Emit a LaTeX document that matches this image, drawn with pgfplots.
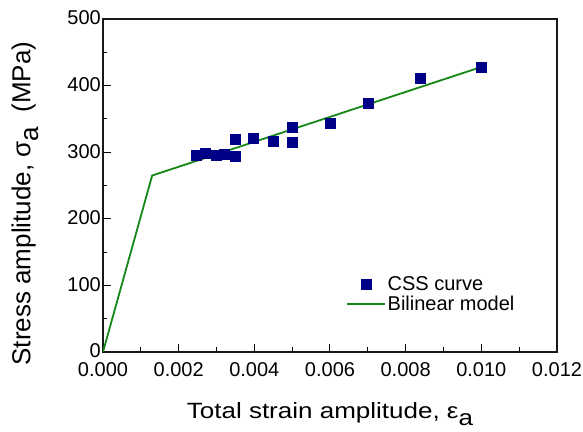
\documentclass[border=0pt]{standalone}
\usepackage{fontspec}
\setmainfont{Liberation Sans}
\usepackage{pgfplots}
\pgfplotsset{compat=1.18}
\definecolor{cssblue}{RGB}{0,0,135}
\definecolor{linegreen}{RGB}{20,135,20}
\begin{document}
\begin{tikzpicture}
\begin{axis}[
  scale only axis,
  width=454pt, height=333pt,
  xmin=0, xmax=0.012, ymin=0, ymax=500,
  xtick={0,0.002,...,0.012},
  ytick={0,100,...,500},
  minor tick num=1,
  xtick pos=bottom, ytick pos=left,
  tick align=inside,
  major tick length=8pt, minor tick length=4.5pt,
  axis line style={line width=1.4pt, black!90},
  every tick/.style={line width=1pt, black},
  scaled x ticks=false,
  /pgf/number format/assume math mode=true,
  xticklabel style={/pgf/number format/fixed, /pgf/number format/fixed zerofill, /pgf/number format/precision=3, yshift=-9pt, inner sep=1pt},
  yticklabel style={/pgf/number format/fixed, xshift=-1pt, yshift=1pt, inner sep=1pt},
  tick label style={font=\fontsize{20}{22}\selectfont},
  xlabel={\scalebox{1}[0.85]{Total strain amplitude, ε\raisebox{-0.3em}{a}}},
  ylabel={Stress amplitude, σ\raisebox{-0.3em}{a}\ \ (MPa)},
  label style={font=\fontsize{26}{28}\selectfont},
  xlabel style={at={([yshift=-67pt]rel axis cs:0.5,0)}, anchor=base},
  ylabel style={at={([xshift=-78pt,yshift=-18pt]rel axis cs:0,0.5)}, anchor=center},
  legend style={at={(0.528,0.240)}, anchor=north west, draw=none, fill=none,
    font=\fontsize{20}{25}\selectfont},
  legend cell align=left,
  legend image code/.code={\draw[mark repeat=2,mark phase=2,#1] plot coordinates {(0pt,0pt) (19pt,0pt) (38pt,0pt)};},
]
\addplot[only marks, mark=square*, mark size=5pt, color=cssblue] coordinates {
  (0.00247,296) (0.0027,298.5) (0.0030,295) (0.0032,297)
  (0.00349,319.5) (0.00349,294.5) (0.00398,321) (0.00449,316.5)
  (0.0050,338) (0.0050,314.5) (0.0060,343) (0.0070,374)
  (0.00839,411.5) (0.00999,427.5)
};
\addlegendentry{CSS curve}
\addplot[linegreen, line width=1.8pt, mark=none] coordinates {
  (0,0) (0.0013,265) (0.00995,427)
};
\addlegendentry{Bilinear model}
\end{axis}
\path (current axis.south west) ++(-103pt,-80pt);
\path (current axis.north east) ++(26pt,19pt);
\end{tikzpicture}
\end{document}
